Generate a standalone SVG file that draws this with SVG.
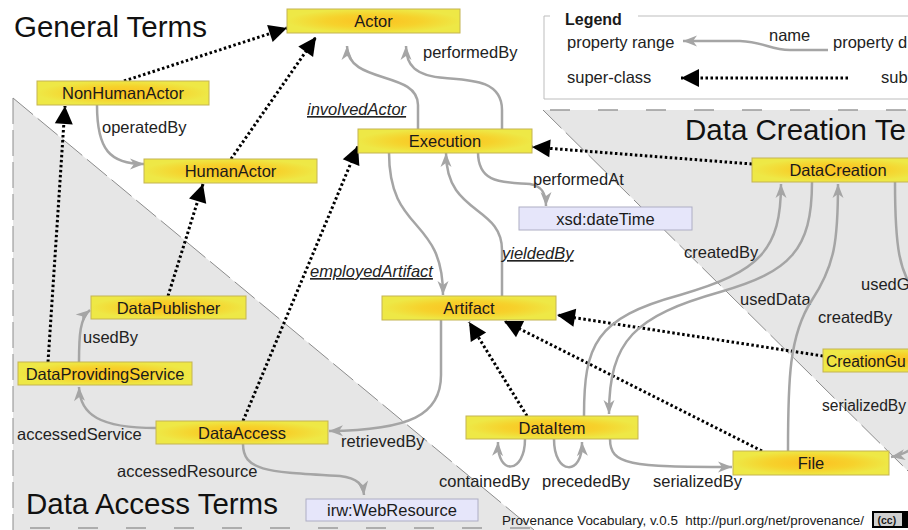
<svg xmlns="http://www.w3.org/2000/svg" width="908" height="530" viewBox="0 0 908 530">
  <defs>
    <radialGradient id="ng" cx="50%" cy="50%" r="50%">
      <stop offset="0%" stop-color="#fcc020"/>
      <stop offset="55%" stop-color="#f6d22c"/>
      <stop offset="100%" stop-color="#eee846"/>
    </radialGradient>
    <marker id="gh" markerUnits="userSpaceOnUse" markerWidth="16" markerHeight="12" refX="14" refY="5.5" orient="auto" overflow="visible">
      <path d="M0,0 L14,5.5 L0,11 L4,5.5 z" fill="#a5a5a5"/>
    </marker>
    <marker id="bh" markerUnits="userSpaceOnUse" markerWidth="20" markerHeight="20" refX="18" refY="9" orient="auto" overflow="visible">
      <path d="M0,0 L18,9 L0,18 z" fill="#000"/>
    </marker>
  </defs>
  <style>
    text { font-family: "Liberation Sans", Arial, sans-serif; fill: #1a1a1a; }
    .title { font-size: 29.5px; fill: #111; }
    .nl { font-size: 16.5px; text-anchor: middle; }
    .el { font-size: 16.5px; fill: #222; }
    .it { font-style: italic; text-decoration: underline; }
    .cls { fill: url(#ng); stroke: #c4b452; stroke-width: 1; }
    .lit { fill: #e6e6fa; stroke: #aeaec4; stroke-width: 1; }
    .prop { fill: none; stroke: #a5a5a5; stroke-width: 2.5; marker-end: url(#gh); }
    .sub { fill: none; stroke: #000; stroke-width: 3; stroke-dasharray: 2.5 2.5; marker-end: url(#bh); }
    .area { fill: #e6e6e6; }
    .edge { fill: none; stroke: #8c8c8c; stroke-width: 1; stroke-dasharray: 26 6; }
    .edgeb { fill: none; stroke: #9a9a9a; stroke-width: 1.5; stroke-dasharray: 20 28; }
  </style>

  <rect width="908" height="530" fill="#fff"/>

  <!-- term areas -->
  <g id="areas">
    <polygon class="area" points="543,110 908,110 908,471"/>
    <path class="edge" d="M543,110 L908,471"/>
    <path class="edgeb" d="M550,110 L908,110"/>
    <polygon class="area" points="13,98 534,530 13,530"/>
    <path class="edge" d="M13,98 L534,530"/>
    <path class="edge" d="M13,98 L13,530" stroke-dasharray="40 8"/>
    <path class="edgeb" d="M30,528 L534,528"/>
    <text class="title" x="14" y="37">General Terms</text>
    <text class="title" x="685" y="140">Data Creation Te</text>
    <text class="title" x="26" y="514">Data Access Terms</text>
  </g>

  <!-- legend -->
  <g id="legend">
    <path d="M550,16 L544,16 L544,99 L908,99 M638,16 L908,16" fill="none" stroke="#bdbdbd" stroke-width="1"/>
    <text x="565" y="25" font-size="16" font-weight="bold">Legend</text>
    <text class="el" x="567" y="48">property range</text>
    <path class="prop" d="M828,50 L790,50 C770,50 765,42 740,41 L683,41"/>
    <text class="el" x="769" y="41">name</text>
    <text class="el" x="833" y="48">property d</text>
    <text class="el" x="567" y="83">super-class</text>
    <path class="sub" d="M848,78 L681,78"/>
    <text class="el" x="881" y="83">sub</text>
  </g>

  <!-- connectors -->
  <g id="connectors">
    <!-- sub-class links -->
    <path class="sub" d="M124,81 L287,28"/>
    <path class="sub" d="M231,159 L316,37"/>
    <path class="sub" d="M168,296 L203,184"/>
    <path class="sub" d="M48,362 L65,106"/>
    <path class="sub" d="M243,421 L358,146"/>
    <path class="sub" d="M752,164 L532,147"/>
    <path class="sub" d="M823,356 L557,315"/>
    <path class="sub" d="M762,451 L504,321"/>
    <path class="sub" d="M527,416 L469,322"/>

    <!-- properties -->
    <path class="prop" d="M97,105 C97,150 110,164 144,164"/>
    <text class="el" x="102" y="133">operatedBy</text>

    <path class="prop" d="M418,129 L418,105 C418,70 347,85 347,46"/>
    <text class="el it" x="307" y="115">involvedActor</text>

    <path class="prop" d="M502,129 L502,110 C502,80 470,80 445,78 C415,76 406,65 406,46"/>
    <text class="el" x="423" y="58">performedBy</text>

    <path class="prop" d="M478,152 C478,185 505,182 530,184 C543,186 546,195 546,206"/>
    <text class="el" x="533" y="185">performedAt</text>

    <path class="prop" d="M389,152 C389,235 443,215 443,295"/>
    <text class="el it" x="310" y="277">employedArtifact</text>

    <path class="prop" d="M502,296 L502,250 C502,205 446,215 446,153"/>
    <text class="el it" x="502" y="259">yieldedBy</text>

    <path class="prop" d="M441,320 L441,375 C441,415 410,430 329,431"/>
    <text class="el" x="341" y="447">retrievedBy</text>

    <path class="prop" d="M156,428 C100,428 80,415 79,387"/>
    <text class="el" x="17" y="440">accessedService</text>

    <path class="prop" d="M79,362 C79,335 80,318 90,310"/>
    <text class="el" x="83" y="343">usedBy</text>

    <path class="prop" d="M243,444 C243,472 270,472 340,476 C358,478 363,485 364,495"/>
    <text class="el" x="117" y="477">accessedResource</text>

    <path class="prop" d="M525,439 C525,474 497,476 498,442"/>
    <text class="el" x="439" y="487">containedBy</text>

    <path class="prop" d="M554,439 C554,476 583,476 582,442"/>
    <text class="el" x="542" y="487">precededBy</text>

    <path class="prop" d="M610,439 C610,465 630,467 732,467"/>
    <text class="el" x="653" y="487">serializedBy</text>

    <path class="prop" d="M584,416 C584,345 595,318 680,295 C760,272 781,250 781,184"/>
    <text class="el" x="684" y="258">createdBy</text>

    <path class="prop" d="M812,182 C812,250 790,272 720,292 C635,316 609,340 609,414"/>
    <text class="el" x="740" y="305">usedData</text>

    <path class="prop" d="M788,451 C788,380 789,335 812,300 C835,265 838,240 838,184"/>
    <text class="el" x="818" y="323">createdBy</text>

    <path d="M895,182 C895,250 900,272 915,292" fill="none" stroke="#a5a5a5" stroke-width="2.5"/>
    <text class="el" x="861" y="290" font-size="16">usedG</text>

    <path class="prop" d="M935,372 C935,430 920,452 891,457"/>
    <text class="el" x="822" y="411" style="font-size:15.6px">serializedBy</text>
  </g>

  <!-- nodes -->
  <g id="node-Actor"><rect class="cls" x="287" y="9" width="173" height="24"/><text class="nl" x="373.5" y="27">Actor</text></g>
  <g id="node-NonHumanActor"><rect class="cls" x="37" y="81" width="172" height="24"/><text class="nl" x="123" y="99">NonHumanActor</text></g>
  <g id="node-HumanActor"><rect class="cls" x="144" y="159" width="173" height="24"/><text class="nl" x="230.5" y="177">HumanActor</text></g>
  <g id="node-Execution"><rect class="cls" x="358" y="129" width="174" height="24"/><text class="nl" x="445" y="147">Execution</text></g>
  <g id="node-dateTime"><rect class="lit" x="519" y="207" width="173" height="23"/><text class="nl" x="605.5" y="224.5">xsd:dateTime</text></g>
  <g id="node-DataCreation"><rect class="cls" x="752" y="158" width="173" height="24"/><text class="nl" x="838" y="176">DataCreation</text></g>
  <g id="node-Artifact"><rect class="cls" x="382" y="296" width="174" height="24"/><text class="nl" x="469" y="314">Artifact</text></g>
  <g id="node-DataPublisher"><rect class="cls" x="91" y="296" width="155" height="23"/><text class="nl" x="168.5" y="313.5">DataPublisher</text></g>
  <g id="node-DataProvidingService"><rect class="cls" x="18" y="362" width="174" height="23"/><text class="nl" x="105" y="379.5">DataProvidingService</text></g>
  <g id="node-DataAccess"><rect class="cls" x="156" y="421" width="172" height="23"/><text class="nl" x="242" y="438.5">DataAccess</text></g>
  <g id="node-WebResource"><rect class="lit" x="306" y="499" width="172" height="22"/><text class="nl" x="392" y="516">irw:WebResource</text></g>
  <g id="node-DataItem"><rect class="cls" x="466" y="416" width="172" height="23"/><text class="nl" x="552" y="433.5">DataItem</text></g>
  <g id="node-File"><rect class="cls" x="733" y="451" width="156" height="24"/><text class="nl" x="811" y="469">File</text></g>
  <g id="node-CreationGuideline"><rect class="cls" x="823" y="349" width="173" height="23"/><text class="nl" x="826" y="366.5" style="text-anchor:start;font-size:15.6px">CreationGu</text></g>

  <!-- footer -->
  <g id="footer">
    <text x="502" y="525" font-size="13.4" fill="#222" style="white-space:pre">Provenance Vocabulary, v.0.5  http://purl.org/net/provenance/</text>
    <rect x="872" y="511" width="40" height="17" fill="#000"/>
    <rect x="874" y="513" width="28" height="13" fill="#cfcfcf"/>
    <text x="877.5" y="523.5" font-size="10.5" font-weight="bold" fill="#000">(cc)</text>
  </g>
</svg>
